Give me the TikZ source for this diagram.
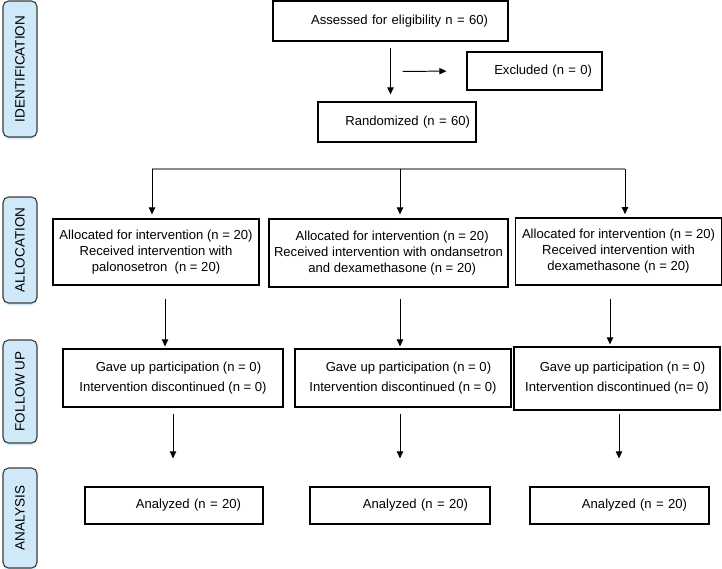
\documentclass[tikz,border=0pt]{standalone}
\usepackage{fontspec}
\setmainfont{Liberation Sans}
\usetikzlibrary{arrows.meta,shadows}

\definecolor{stageblue}{RGB}{207,233,249}
\definecolor{stageline}{RGB}{60,60,60}
\definecolor{bracketgray}{RGB}{140,140,140}

\newcommand{\boxfont}{\fontsize{9.3}{11.3}\selectfont}
\newcommand{\fupfont}{\fontsize{9.3}{14.2}\selectfont}

\tikzset{
  box/.style={draw, line width=0.8pt, font=\boxfont, inner sep=0pt, align=center},
  onebox/.style={box, align=right, minimum height=#1},
  stagebox/.style={draw=stageline, fill=stageblue, rounded corners=4pt, line width=0.8pt,
    rotate=90, font=\fontsize{9.6}{11}\selectfont, inner sep=0pt, minimum height=0.85cm,
    drop shadow={fill=stageblue, opacity=0.9, shadow xshift=0pt, shadow yshift=-1.6pt}},
  arr/.style={-{Triangle[length=5pt,width=4.5pt]}, line width=0.7pt},
}

\begin{document}
\begin{tikzpicture}[x=0.025cm, y=-0.025cm]
        \useasboundingbox (0,0) rectangle (722,569);

        % stage labels on the left
        \node[stagebox, minimum width=3.4cm] (sident) at (20,69) {IDENTIFICATION};
        \node[stagebox, minimum width=2.65cm] (salloc) at (20,250) {ALLOCATION};
        \node[stagebox, minimum width=2.575cm] (sfup) at (20,391.5) {FOLLOW UP};
        \node[stagebox, minimum width=2.5cm] (sana) at (20,518) {ANALYSIS};

        % enrolment
        \node[onebox=1cm, text width=4.875cm, inner xsep=0.5cm] (assess) at (390.5,21) {Assessed for eligibility n = 60)};
        \node[onebox=0.95cm, text width=2.875cm, inner xsep=0.25cm] (excl) at (534.5,71) {Excluded (n = 0)};
        \node[onebox=1cm, text width=3.65cm, inner xsep=0.15cm] (rand) at (397,122) {Randomized (n = 60)};

        \draw[arr, shorten <=0.15cm, shorten >=0.175cm] (assess.south) -- (assess.south |- rand.north);
        \path (assess.south) -- (assess.south |- rand.north) coordinate[pos=0.5] (mid);
        \draw[arr, shorten <=0.3cm, shorten >=0.5cm] (mid) -- (excl.west);

        % allocation
        \node[box, minimum width=5.15cm, minimum height=1.65cm] (alloc1) at (156,252)
          {Allocated for intervention (n = 20)\\ Received intervention with\\ palonosetron\ \ (n = 20)};
        \node[box, minimum width=5.975cm, minimum height=1.7cm] (alloc2) at (388.5,253)
          {\ \ Allocated for intervention (n = 20)\\ Received intervention with ondansetron\\ \ \ and dexamethasone (n = 20)};
        \node[box, minimum width=5.15cm, minimum height=1.675cm] (alloc3) at (618.5,251.5)
          {Allocated for intervention (n = 20)\\ Received intervention with\\ dexamethasone (n = 20)};

        \coordinate (b1) at (152,169);
        \coordinate (b2) at (400,169);
        \coordinate (b3) at (625,169);
        \draw[bracketgray, line width=0.9pt] (b1) -- (b3);
        \draw[arr, shorten >=0.1cm] (b1) -- (b1 |- alloc1.north);
        \draw[arr, shorten >=0.1cm] (b2) -- (b2 |- alloc2.north);
        \draw[arr, shorten >=0.08cm] (b3) -- (b3 |- alloc3.north);

        % follow up
        \node[box, font=\fupfont, minimum width=5.5cm, minimum height=1.45cm] (fup1) at (173,378)
          {\ \ \ Gave up participation (n = 0)\\ Intervention discontinued (n = 0)};
        \node[box, font=\fupfont, minimum width=5.4cm, minimum height=1.45cm] (fup2) at (403,378)
          {\ \ \ Gave up participation (n = 0)\\ Intervention discontinued (n = 0)};
        \node[box, font=\fupfont, minimum width=5.15cm, minimum height=1.575cm] (fup3) at (617,378.5)
          {\ \ \ Gave up participation (n = 0)\\ Intervention discontinued (n= 0)};

        \draw[arr, shorten <=0.325cm, shorten >=0.05cm] ([xshift=0.225cm]alloc1.south) -- ([xshift=0.225cm]alloc1.south |- fup1.north);
        \draw[arr, shorten <=0.275cm, shorten >=0.05cm] ([xshift=0.2875cm]alloc2.south) -- ([xshift=0.2875cm]alloc2.south |- fup2.north);
        \draw[arr, shorten <=0.325cm, shorten >=0.05cm] ([xshift=-0.2125cm]alloc3.south) -- ([xshift=-0.2125cm]alloc3.south |- fup3.north);

        % analysis
        \node[onebox=0.925cm, text width=3.35cm, inner xsep=0.55cm] (ana1) at (174,505.5) {Analyzed (n = 20)};
        \node[onebox=0.925cm, text width=3.4cm, inner xsep=0.55cm] (ana2) at (400,505.5) {Analyzed (n = 20)};
        \node[onebox=0.925cm, text width=3.375cm, inner xsep=0.55cm] (ana3) at (619.5,505.5) {Analyzed (n = 20)};

        \draw[arr, shorten <=0.15cm, shorten >=0.7cm] (fup1.south) -- (fup1.south |- ana1.north);
        \draw[arr, shorten <=0.15cm, shorten >=0.7cm] ([xshift=-0.075cm]fup2.south) -- ([xshift=-0.075cm]fup2.south |- ana2.north);
        \draw[arr, shorten <=0.075cm, shorten >=0.7cm] ([xshift=0.05cm]fup3.south) -- ([xshift=0.05cm]fup3.south |- ana3.north);
\end{tikzpicture}
\end{document}
